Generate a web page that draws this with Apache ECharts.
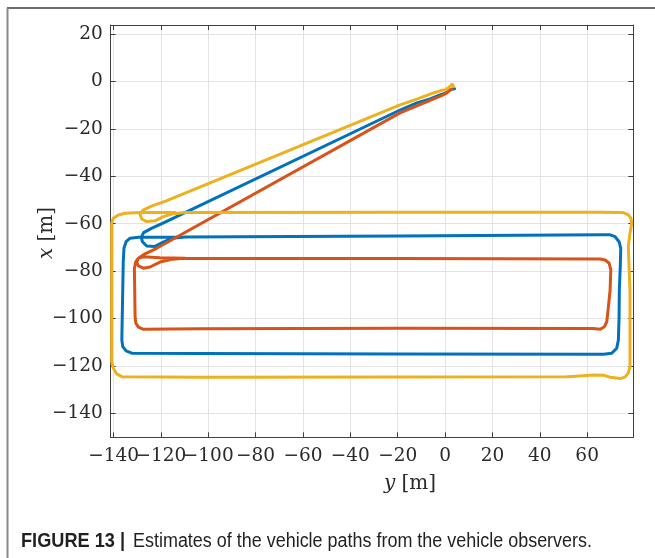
<!DOCTYPE html>
<html><head><meta charset="utf-8">
<script src="https://cdn.jsdelivr.net/npm/echarts@6/dist/echarts.min.js"></script>
<style>html,body{margin:0;padding:0;background:#fff}#c{width:655px;height:558px}</style>
</head><body><div id="c"></div>
<script>
// tick labels
const xTicks = [-140,-120,-100,-80,-60,-40,-20,0,20,40,60];
const yTicks = [-140,-120,-100,-80,-60,-40,-20,0,20];
const seriesNames = ['Vehicle 1','Vehicle 2','Vehicle 3'];
// paths: [y (horizontal), x (vertical)] in metres
const pathBlue = [
[4.0,-3.0],[3.4,-2.7],[2.4,-3.3],[0.6,-4.7],[-2.1,-5.6],[-6.3,-7.3],[-11.9,-9.0],[-19.0,-12.0],
[-118,-59.2],[-124,-62.0],[-127.3,-63.8],[-128.3,-65.8],[-127.8,-67.6],[-126.0,-69.4],[-122.5,-69.6],[-119.0,-67.8],[-115.4,-66.2],[-109.8,-65.6],
[-19,-65.2],[66,-64.7],[69.7,-64.7],[71.8,-65.5],[73.5,-67.6],[74.2,-70.4],[74.0,-78.1],[73.6,-88.0],[73.5,-99.2],[73.2,-109.1],[72.5,-112.6],[70.4,-114.7],[66.9,-115.1],
[-19,-115.0],[-103.5,-114.8],[-132.3,-114.7],[-134.7,-113.7],[-136.1,-111.9],[-136.5,-109.1],[-135.9,-76.0],[-135.6,-70.4],[-134.7,-67.6],[-133.0,-66.1],[-129.5,-65.7],[-123.9,-65.7],[-109.8,-65.6]
];
const pathOrange = [
[2.8,-3.2],[1.8,-3.8],[0.6,-4.9],[-1.7,-6.0],[-6.3,-7.9],[-11.9,-10.3],[-19,-13.2],
[-122,-70.5],[-126.5,-72.6],[-129.5,-74.6],[-130.2,-76.3],[-129.5,-77.8],[-127.4,-78.8],[-124.6,-78.3],[-120.4,-76.2],[-115.4,-75.0],[-109.8,-74.6],
[-19,-74.7],[65.5,-74.9],[67.6,-75.3],[69.3,-76.7],[70.0,-79.5],[69.7,-88.0],[69.0,-95.0],[68.3,-101.4],[67.3,-103.5],[65.5,-104.6],[62.6,-104.3],
[-19,-104.2],[-103.5,-104.4],[-127.4,-104.6],[-129.5,-103.7],[-130.6,-102.0],[-130.9,-99.2],[-131.2,-78.8],[-130.6,-76.0],[-129.5,-74.6],[-127.4,-74.0],[-120.4,-74.4],[-109.8,-74.6]
];
const pathYellow = [
[3.6,-2.1],[3.5,-1.4],[3.0,-1.1],[2.3,-1.6],[1.4,-2.6],[0.2,-3.4],[-2.1,-3.9],[-4.9,-4.8],[-11.9,-7.4],[-19.0,-9.8],
[-118,-50.5],[-124,-52.6],[-127.5,-54.3],[-128.8,-56.0],[-128.1,-58.0],[-126.0,-59.1],[-122.5,-58.8],[-119.0,-57.0],[-115.4,-55.9],[-109.8,-55.3],
[-19,-55.2],[65.5,-55.2],[75.3,-55.3],[77.4,-56.3],[78.5,-57.7],[78.8,-59.8],[78.1,-64.0],[77.4,-69.7],[77.7,-78.1],[78.1,-88.0],[78.1,-102.0],[78.1,-116.1],[78.1,-120.4],[77.4,-123.1],[76.0,-124.8],[73.9,-125.4],[69.7,-124.8],[66.9,-124.0],[62.6,-123.9],[57.0,-124.3],[51.4,-124.6],
[-19,-124.7],[-103.5,-124.8],[-136.5,-124.6],[-138.7,-123.4],[-140.1,-121.0],[-140.8,-118.2],[-140.8,-59.8],[-140.1,-57.7],[-138.0,-56.3],[-135.1,-55.6],[-128.8,-55.3],[-114,-55.3]
];
const colors = ['#0072BD','#D95319','#EDB120'];
const captionBold = 'FIGURE 13 |';
const captionText = 'Estimates of the vehicle paths from the vehicle observers.';

const tickFont = 'DejaVu Serif';
const fmt = v => String(v).replace('-', '\u2212');
const axisLineCol = '#404040';
const gridCol = '#e3e3e3';
const xLabA = xTicks.filter((_, i) => i % 2 === 0);
const xLabB = xTicks.filter((_, i) => i % 2 === 1);

function mkX(pos, opts) {
  return {
    type: 'value', position: pos, min: -141.2, max: 79.5,
    axisLine: {show: opts.line, onZero: false, lineStyle: {color: axisLineCol, width: 1}},
    axisTick: {show: opts.line, inside: true, length: 5, customValues: xTicks, lineStyle: {color: axisLineCol, width: 1}},
    axisLabel: {show: !!opts.labels, customValues: opts.labels || xTicks, formatter: fmt, margin: 9, color: '#2a2a2a', fontFamily: tickFont, fontSize: 18.5,
      showMinLabel: true, showMaxLabel: true},
    splitLine: {show: !!opts.split, lineStyle: {color: gridCol, width: 1}}
  };
}
function mkY(pos, labels) {
  return {
    type: 'value', position: pos, min: -150.2, max: 23.9,
    axisLine: {show: true, onZero: false, lineStyle: {color: axisLineCol, width: 1}},
    axisTick: {show: true, inside: true, length: 5, customValues: yTicks, lineStyle: {color: axisLineCol, width: 1}},
    axisLabel: {show: labels, customValues: yTicks, formatter: fmt, margin: 8, color: '#2a2a2a', fontFamily: tickFont, fontSize: 18.5,
      showMinLabel: true, showMaxLabel: true},
    splitLine: {show: labels, lineStyle: {color: gridCol, width: 1}}
  };
}

// caption scaling to measured width
const ctx = document.createElement('canvas').getContext('2d');
ctx.font = 'bold 20px "Liberation Sans"';
const wb = ctx.measureText(captionBold).width;
ctx.font = '20px "Liberation Sans"';
const wr = ctx.measureText(captionText).width;
const sb = 104 / wb, sr = 459 / wr;

const paths = [pathBlue, pathOrange, pathYellow];
const option = {
  animation: false,
  backgroundColor: '#fff',
  grid: {left: 110.7, top: 25, right: 21.7, bottom: 120.7, containLabel: false},
  xAxis: [
    mkX('bottom', {line: true, labels: xLabA, split: true}),
    mkX('top', {line: true}),
    mkX('bottom', {line: false, labels: xLabB})
  ],
  yAxis: [mkY('left', true), mkY('right', false)],
  series: paths.map((p, i) => ({
    name: seriesNames[i], type: 'line', data: p, showSymbol: false, symbol: 'none',
    xAxisIndex: 0, yAxisIndex: 0, z: 3 + i,
    lineStyle: {color: colors[i], width: 3, cap: 'round', join: 'round'}
  })),
  graphic: [
    {type: 'line', shape: {x1: 7, y1: 8, x2: 655, y2: 8}, style: {stroke: '#3c3c3c', lineWidth: 1.5}},
    {type: 'line', shape: {x1: 7.5, y1: 8, x2: 7.5, y2: 558}, style: {stroke: '#8a8a8a', lineWidth: 2}},
    {type: 'text', x: 47, y: 233, rotation: Math.PI / 2,
     style: {text: '{i|x} [m]', fontFamily: tickFont, fontSize: 20, fill: '#2a2a2a', align: 'center', verticalAlign: 'middle',
       rich: {i: {fontStyle: 'italic', fontFamily: tickFont, fontSize: 20, fill: '#2a2a2a'}}}},
    {type: 'text', x: 410, y: 484,
     style: {text: '{i|y} [m]', fontFamily: tickFont, fontSize: 20, fill: '#2a2a2a', align: 'center', verticalAlign: 'middle',
       rich: {i: {fontStyle: 'italic', fontFamily: tickFont, fontSize: 20, fill: '#2a2a2a'}}}},
    {type: 'text', x: 21, y: 541, scaleX: sb,
     style: {text: captionBold, font: 'bold 20px "Liberation Sans"', fill: '#231f20', align: 'left', verticalAlign: 'middle'}},
    {type: 'text', x: 133, y: 541, scaleX: sr,
     style: {text: captionText, font: '20px "Liberation Sans"', fill: '#231f20', align: 'left', verticalAlign: 'middle'}}
  ]
};
const chart = echarts.init(document.getElementById('c'), null, {renderer: 'canvas'});
chart.setOption(option);
</script>
</body></html>
